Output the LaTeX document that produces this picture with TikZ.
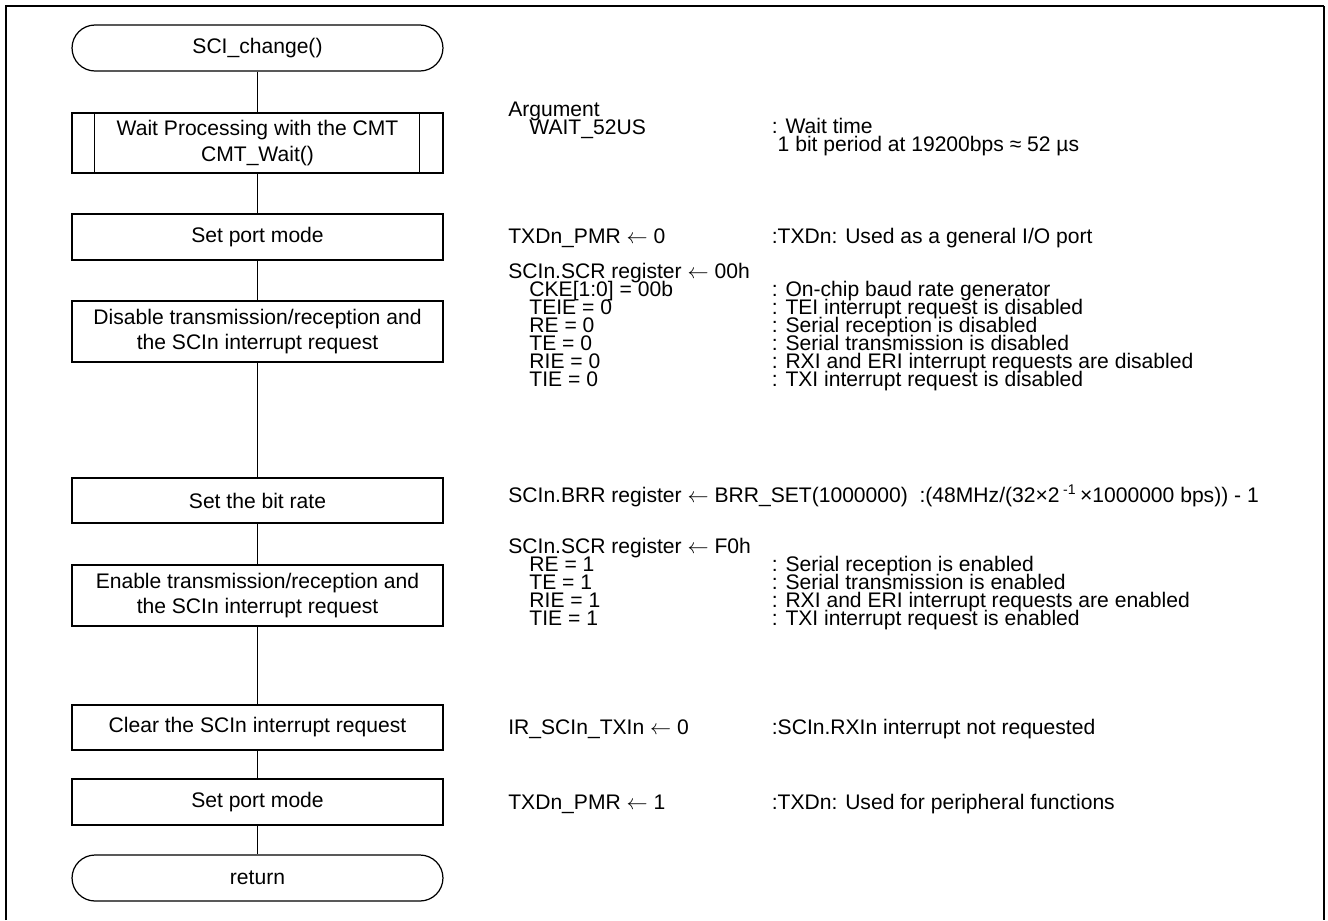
\documentclass[tikz,border=0pt]{standalone}
\usepackage{fontspec}
\setmainfont{Liberation Sans}

\newcommand\notefont{\fontsize{12}{10.24}\selectfont\lineskiplimit=-20pt\relax}

\tikzset{
  procbox/.style={draw, line width=0.7pt, minimum width=7.42cm, align=center,
    inner sep=0pt, font=\fontsize{12}{14.4}\selectfont},
  termbox/.style={procbox, rounded corners=0.46cm, minimum height=0.92cm},
  flowline/.style={line width=0.7pt},
  % anchored on the baseline of the last line
  notetext/.style={anchor=base west, inner sep=0pt, align=left, font=\notefont},
}

\begin{document}
\begin{tikzpicture}[x=0.02cm, y=-0.02cm]
\useasboundingbox (0,0) rectangle (1328,920);

% frame
\draw[line width=1.4pt] (6,920) -- (6,6) -- (1324,6);
\draw[line width=0.8pt] (1324,6) -- (1324,920);

% flow
\node[termbox] (start) at (257.5,48) {SCI\_change()};
\node[procbox, minimum height=1.2cm] (wait) at (257.5,143) {Wait Processing with the CMT\\CMT\_Wait()};
\draw[flowline] ([xshift=0.46cm]wait.north west) -- ([xshift=0.46cm]wait.south west);
\draw[flowline] ([xshift=-0.48cm]wait.north east) -- ([xshift=-0.48cm]wait.south east);
\node[procbox, minimum height=0.92cm] (portgpio) at (257.5,237) {Set port mode};
\node[procbox, minimum height=1.22cm] (disable) at (257.5,331.5) {Disable transmission/reception and\\the SCIn interrupt request};
\node[procbox, minimum height=0.9cm] (bitrate) at (257.5,500.5) {Set the bit rate};
\node[procbox, minimum height=1.22cm] (enable) at (257.5,595.5) {Enable transmission/reception and\\the SCIn interrupt request};
\node[procbox, minimum height=0.9cm] (clear) at (257.5,727.5) {Clear the SCIn interrupt request};
\node[procbox, minimum height=0.92cm] (portperi) at (257.5,802) {Set port mode};
\node[termbox] (ret) at (257.5,878) {return};

\draw[flowline] (start) -- (wait);
\draw[flowline] (wait) -- (portgpio);
\draw[flowline] (portgpio) -- (disable);
\draw[flowline] (disable) -- (bitrate);
\draw[flowline] (bitrate) -- (enable);
\draw[flowline] (enable) -- (clear);
\draw[flowline] (clear) -- (portperi);
\draw[flowline] (portperi) -- (ret);

% notes
\node[notetext] (argname) at (508,134) {Argument\\\quad WAIT\_52US};
\node[notetext] (argnote) at (771.5,151) {: Wait time\\\hphantom{:}1 bit period at 19200bps ≈ 52 µs};

\node[notetext] (pmrzero) at (508,243) {TXDn\_PMR $\leftarrow$ 0};
\node[notetext] (pmrzeronote) at (771.5,243) {:TXDn: Used as a general I/O port};

\node[notetext] (scroff) at (508,386) {SCIn.SCR register $\leftarrow$ 00h\\\quad CKE[1:0] = 00b\\\quad TEIE = 0\\\quad RE = 0\\\quad TE = 0\\\quad RIE = 0\\\quad TIE = 0};
\node[notetext] (scroffnote) at (771.5,386) {: On-chip baud rate generator\\: TEI interrupt request is disabled\\: Serial reception is disabled\\: Serial transmission is disabled\\: RXI and ERI interrupt requests are disabled\\: TXI interrupt request is disabled};

\node[notetext] (brr) at (508,502) {SCIn.BRR register $\leftarrow$ BRR\_SET(1000000)\ \ :(48MHz/(32×2\,\textsuperscript{-1}\,×1000000 bps)) - 1};

\node[notetext] (scron) at (508,625) {SCIn.SCR register $\leftarrow$ F0h\\\quad RE = 1\\\quad TE = 1\\\quad RIE = 1\\\quad TIE = 1};
\node[notetext] (scronnote) at (771.5,625) {: Serial reception is enabled\\: Serial transmission is enabled\\: RXI and ERI interrupt requests are enabled\\: TXI interrupt request is enabled};

\node[notetext] (irclr) at (508,734) {IR\_SCIn\_TXIn $\leftarrow$ 0};
\node[notetext] (irclrnote) at (771.5,734) {:SCIn.RXIn interrupt not requested};

\node[notetext] (pmrone) at (508,809) {TXDn\_PMR $\leftarrow$ 1};
\node[notetext] (pmronenote) at (771.5,809) {:TXDn: Used for peripheral functions};
\end{tikzpicture}
\end{document}
